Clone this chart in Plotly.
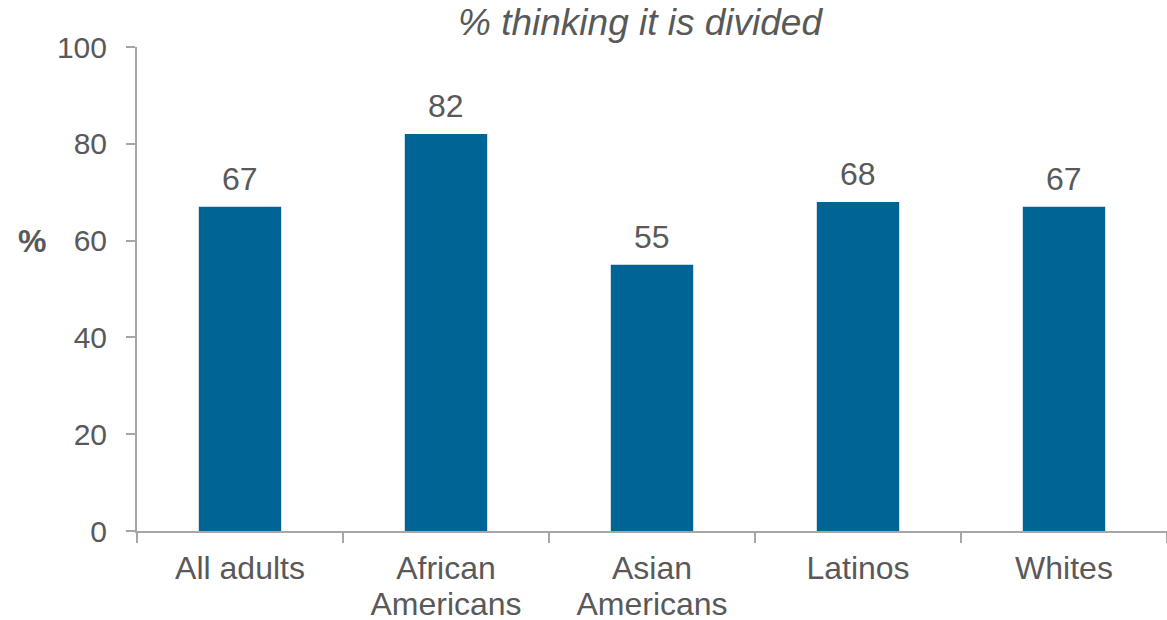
import plotly.graph_objects as go

categories = ["All adults", "African<br>Americans", "Asian<br>Americans", "Latinos", "Whites"]
values = [67, 82, 55, 68, 67]
y_ticks = [0, 20, 40, 60, 80, 100]

TEXT = "#595959"
AXIS = "#a6a6a6"
BAR = "#006595"
FONT = "Liberation Sans, Arial, sans-serif"

L, R, T, B = 137, 0, 47, 89
W, H = 1167, 620
PW, PH = W - L - R, H - T - B


def tick_label(s):
    return "<br>".join(f"<span style='font-size:32px'>{p}</span>" for p in s.split("<br>"))


fig = go.Figure()
fig.add_trace(go.Bar(
    x=categories, y=values, marker=dict(color=BAR, line=dict(width=0)),
    width=0.4, hoverinfo="skip",
))

for c, v in zip(categories, values):
    fig.add_annotation(x=c, y=v, text=str(v), showarrow=False, xref="x", yref="y",
                       yanchor="bottom", yshift=8,
                       font=dict(family=FONT, size=32, color=TEXT))

fig.add_annotation(x=(32 - L) / PW, y=60, xref="paper", yref="y", text="<b>%</b>",
                   showarrow=False, xanchor="center", yanchor="middle",
                   font=dict(family=FONT, size=32, color=TEXT))
fig.add_annotation(x=(640 - L) / PW, y=1 + (T - 23) / PH, xref="paper", yref="paper",
                   text="<i>% thinking it is divided</i>",
                   showarrow=False, xanchor="center", yanchor="middle",
                   font=dict(family=FONT, size=37, color=TEXT))

fig.update_layout(
    width=W, height=H,
    margin=dict(l=L, r=R, t=T, b=B, autoexpand=False),
    paper_bgcolor="white", plot_bgcolor="white",
    showlegend=False,
    font=dict(family=FONT, size=31, color=TEXT),
)

fig.update_xaxes(
    tickvals=categories, ticktext=[tick_label(c) for c in categories],
    showline=True, linecolor=AXIS, linewidth=2,
    ticks="outside", tickson="boundaries", ticklen=10, tickcolor=AXIS, tickwidth=2,
    showgrid=False, zeroline=False, automargin=False, ticklabelstandoff=14,
    tickfont=dict(family=FONT, size=27, color=TEXT),
)
fig.update_yaxes(
    range=[0, 100], tickvals=y_ticks,
    showline=True, linecolor=AXIS, linewidth=2,
    ticks="outside", ticklen=9, tickcolor=AXIS, tickwidth=2,
    showgrid=False, zeroline=False, ticklabelstandoff=13, automargin=False,
    tickfont=dict(family=FONT, size=30, color=TEXT),
)

fig.write_html(
    "out.html",
    config={"displayModeBar": False},
    post_script="document.body.style.margin='0';document.body.style.overflow='hidden';",
)
